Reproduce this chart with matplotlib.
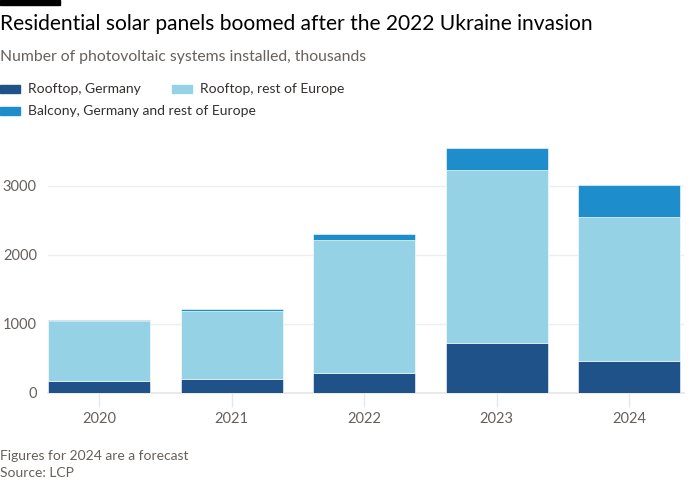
import numpy as np
import matplotlib
matplotlib.use('Agg')
from matplotlib import pyplot as plt

plt.rcParams['font.family'] = ['Lato', 'DejaVu Sans']

years = ['2020', '2021', '2022', '2023', '2024']
rooftop_germany = [180, 198, 285, 719, 463]
rooftop_rest = [868, 994, 1929, 2514, 2090]
balcony = [5, 19, 93, 308, 463]

series_names = ['Rooftop, Germany', 'Rooftop, rest of Europe', 'Balcony, Germany and rest of Europe']

c_dark = '#1f5289'
c_light = '#96d2e5'
c_balc = '#1e8dcc'
grey = '#66605c'

fig = plt.figure(figsize=(7, 5), dpi=100)
fig.patch.set_facecolor('white')
# axes in pixel terms: left 48, right 684, top 140, bottom 393
ax = fig.add_axes([48/700, 1-393/500, (684-48)/700, (393-140)/500])

x = np.arange(len(years))
w = 0.77
g = np.array(rooftop_germany)
r = np.array(rooftop_rest)
b = np.array(balcony)
ax.bar(x, g, w, color=c_dark, edgecolor='white', linewidth=0.4, zorder=3)
ax.bar(x, r, w, bottom=g, color=c_light, edgecolor='white', linewidth=0.4, zorder=3)
ax.bar(x, b, w, bottom=g + r, color=c_balc, edgecolor='white', linewidth=0.4, zorder=3)

ax.set_xlim(-0.385, 4.415)
ax.set_ylim(0, 3660)
ax.set_yticks([0, 1000, 2000, 3000])
ax.set_xticks(x)
ax.set_xticklabels(years)
ax.grid(axis='y', color='#eeeeee', linewidth=1, zorder=0)
for s in ['top', 'right', 'left']:
    ax.spines[s].set_visible(False)
ax.spines['bottom'].set_color('#e6e6e6')
ax.spines['bottom'].set_linewidth(1.2)
ax.tick_params(axis='y', length=0, pad=8, labelsize=10.5, labelcolor=grey)
ax.tick_params(axis='x', length=10, width=1, color='#e6e6e6', pad=4, labelsize=10.5, labelcolor=grey)

# top black tab
fig.patches.append(plt.Rectangle((0, 1-5/500), 60/700, 5/500, transform=fig.transFigure,
                                 color='black', zorder=5))

fig.text(0, 1-24/500, 'Residential solar panels boomed after the 2022 Ukraine invasion',
         fontsize=15.1, color='black', va='center', ha='left')
fig.text(0, 1-57/500, 'Number of photovoltaic systems installed, thousands',
         fontsize=11.3, color=grey, va='center', ha='left')

# legend drawn by hand (two rows, FT style)
legend_items = [(series_names[0], c_dark, 0, 89),
                (series_names[1], c_light, 172, 89),
                (series_names[2], c_balc, 0, 111)]
for name, col, px, py in legend_items:
    fig.patches.append(plt.Rectangle((px/700, 1-(py+4)/500), 20/700, 8/500,
                                     transform=fig.transFigure, color=col))
    fig.text((px+28)/700, 1-py/500, name, fontsize=10, color='#33302e', va='center', ha='left')

fig.text(0, 1-456/500, 'Figures for 2024 are a forecast', fontsize=10, color=grey, va='center')
fig.text(0, 1-473/500, 'Source: LCP', fontsize=10, color=grey, va='center')

fig.savefig('out.png', dpi=100, facecolor='white')
